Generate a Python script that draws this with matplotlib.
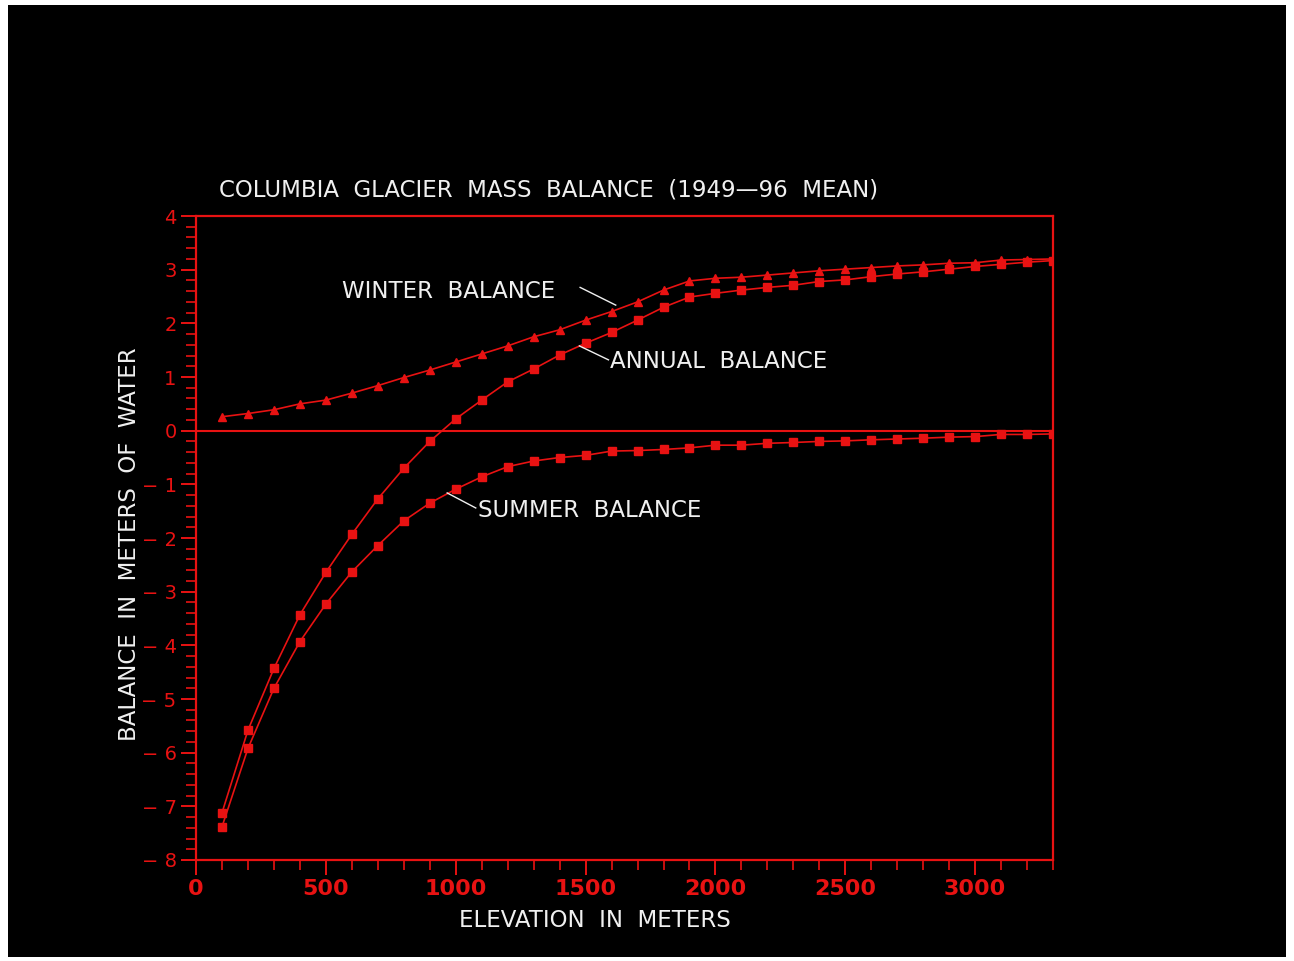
import numpy as np
import matplotlib.pyplot as plt
from matplotlib.ticker import MultipleLocator, FuncFormatter
from matplotlib.patches import Rectangle

# mean balance by 100 m elevation band (m water equivalent)
elevation = [100, 200, 300, 400, 500, 600, 700, 800, 900, 1000,
             1100, 1200, 1300, 1400, 1500, 1600, 1700, 1800, 1900, 2000,
             2100, 2200, 2300, 2400, 2500, 2600, 2700, 2800, 2900, 3000,
             3100, 3200, 3300]
winter = [0.26, 0.32, 0.39, 0.50, 0.57, 0.70, 0.84, 0.99, 1.13, 1.28,
          1.43, 1.58, 1.75, 1.88, 2.06, 2.22, 2.40, 2.62, 2.79, 2.84,
          2.86, 2.90, 2.94, 2.98, 3.01, 3.04, 3.07, 3.09, 3.12, 3.13,
          3.18, 3.19, 3.20]
summer = [-7.38, -5.92, -4.80, -3.93, -3.23, -2.63, -2.14, -1.68, -1.35, -1.09,
          -0.86, -0.67, -0.565, -0.50, -0.46, -0.38, -0.37, -0.35, -0.32, -0.27,
          -0.27, -0.235, -0.22, -0.20, -0.19, -0.17, -0.155, -0.14, -0.12, -0.11,
          -0.07, -0.07, -0.06]
annual = [-7.12, -5.58, -4.43, -3.43, -2.64, -1.93, -1.27, -0.70, -0.20, 0.22,
          0.57, 0.91, 1.15, 1.41, 1.63, 1.83, 2.06, 2.30, 2.49, 2.56,
          2.62, 2.67, 2.71, 2.78, 2.81, 2.87, 2.92, 2.96, 3.01, 3.06,
          3.10, 3.14, 3.17]

# curve labels: text anchor (x, y) and leader line ends
labels = ["WINTER  BALANCE", "ANNUAL  BALANCE", "SUMMER  BALANCE"]
label_pos = [(562, 2.60), (1594, 1.28), (1086, -1.49)]
leader_from = [(1479, 2.67), (1476, 1.58), (967, -1.16)]
leader_to = [(1616, 2.34), (1588, 1.32), (1077, -1.44)]

RED = '#e81212'
WHITE = '#f0f0f0'

fig = plt.figure(figsize=(12.94, 9.61), dpi=100, facecolor='white')
fig.patches.append(Rectangle((0.0062, 0.0042), 0.9876, 0.9906,
                             transform=fig.transFigure, facecolor='black',
                             edgecolor='none', zorder=-10))

ax = fig.add_axes([0.1515, 0.1051, 0.6623, 0.6701])
ax.set_facecolor('black')

ax.plot(elevation, winter, color=RED, lw=1.2, marker='^', ms=6, zorder=3)
ax.plot(elevation, annual, color=RED, lw=1.2, marker='s', ms=6, zorder=3)
ax.plot(elevation, summer, color=RED, lw=1.2, marker='s', ms=6, zorder=3)
ax.axhline(0, color=RED, lw=1.5, zorder=2)

ax.set_xlim(0, 3300)
ax.set_ylim(-8, 4)

for sp in ax.spines.values():
    sp.set_color(RED)
    sp.set_linewidth(1.6)

ax.xaxis.set_major_locator(MultipleLocator(500))
ax.xaxis.set_minor_locator(MultipleLocator(100))
ax.yaxis.set_major_locator(MultipleLocator(1))
ax.yaxis.set_minor_locator(MultipleLocator(0.2))
ax.tick_params(which='major', direction='out', length=11, width=1.4, color=RED)
ax.tick_params(which='minor', direction='out', length=7, width=1.2, color=RED)
ax.tick_params(axis='x', labelsize=16, labelcolor=RED, pad=3)
ax.tick_params(axis='y', labelsize=14, labelcolor=RED, pad=3)
for lbl in ax.get_xticklabels():
    lbl.set_fontweight('bold')
ax.yaxis.set_major_formatter(FuncFormatter(
    lambda v, p: f"\u2212 {abs(int(round(v)))}" if v < 0 else f"{int(round(v))}"))

ax.set_xlabel("ELEVATION  IN  METERS", color=WHITE, fontsize=16.5, va='center')
ax.xaxis.set_label_coords(0.465, -0.094)
ax.set_ylabel("BALANCE  IN  METERS  OF  WATER", color=WHITE, fontsize=16.5,
              va='center', ha='center')
ax.yaxis.set_label_coords(-0.078, 0.49)
ax.text(0.027, 1.04, "COLUMBIA  GLACIER  MASS  BALANCE  (1949\u201496  MEAN)",
        transform=ax.transAxes, color=WHITE, fontsize=16.5, ha='left', va='center')

for text, (tx, ty), (x0, y0), (x1, y1) in zip(labels, label_pos, leader_from, leader_to):
    ax.text(tx, ty, text, color=WHITE, fontsize=16.5, ha='left', va='center')
    ax.plot([x0, x1], [y0, y1], color=WHITE, lw=1.0, zorder=4)

fig.savefig("out.png", dpi=100, facecolor=fig.get_facecolor())
